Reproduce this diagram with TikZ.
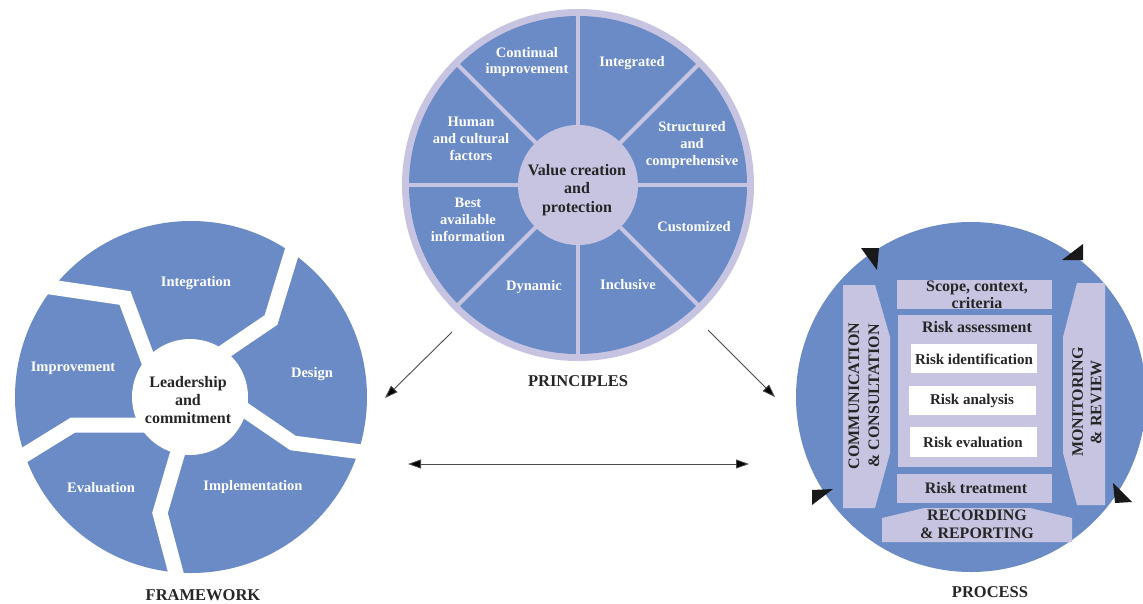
\documentclass[tikz,border=0pt]{standalone}
\usepackage{fontspec}
\setmainfont{Liberation Serif}
\usetikzlibrary{arrows.meta}
\definecolor{pblue}{HTML}{6A8BC6}
\definecolor{plav}{HTML}{C7C4E2}
\definecolor{tdark}{HTML}{262626}
\definecolor{aline}{HTML}{4A4A4A}
\begin{document}
\begin{tikzpicture}[x=1pt,y=-1pt,
  wlab/.style={text=white,font=\bfseries\fontsize{14.5}{16.7}\selectfont,align=center,inner sep=0},
  dlab/.style={text=tdark,font=\bfseries\fontsize{16}{18.3}\selectfont,align=center,inner sep=0},
  blab/.style={text=tdark,font=\bfseries\fontsize{15}{17}\selectfont,align=center,inner sep=0},
  title/.style={text=tdark,font=\bfseries\fontsize{16.5}{18}\selectfont,inner sep=0},
  gap/.style={white,line width=15,line join=miter},
  spoke/.style={plav,line width=4},
  lav/.style={fill=plav,draw=none},
  wbox/.style={fill=white,draw=none},
  conn/.style={aline,line width=0.9,-{Triangle[length=13,width=9,fill=black]}},
  conn2/.style={aline,line width=0.9,{Triangle[length=13,width=9,fill=black]}-{Triangle[length=13,width=9,fill=black]}},
  tip/.style={fill=black!90,draw=none}]
\useasboundingbox (0,0) rectangle (1143,603);
\fill[white] (0,0) rectangle (1143,603);

% ---------------- PRINCIPLES ----------------
\coordinate (pc) at (578,185);
\fill[plav] (pc) circle (176);
\fill[pblue] (pc) circle (169);
\foreach \a in {0,45,...,315}
  \draw[spoke] (pc) -- ++(\a:-172);
\fill[plav] (pc) circle (60);
\node[dlab] (pcenter) at (577,190) {Value creation\\and\\protection};
\node[wlab] (p1) at (527,62) {Continual\\improvement};
\node[wlab] (p2) at (632,63) {Integrated};
\node[wlab] (p3) at (692,145) {Structured\\and\\comprehensive};
\node[wlab] (p4) at (694,227) {Customized};
\node[wlab] (p5) at (628,285) {Inclusive};
\node[wlab] (p6) at (534,287) {Dynamic};
\node[wlab] (p7) at (468,220) {Best\\available\\information};
\node[wlab] (p8) at (471,139) {Human\\and cultural\\factors};
\node[title] (ptitle) at (578,381) {PRINCIPLES};

% ---------------- FRAMEWORK ----------------
\coordinate (fc) at (191,397);
\fill[pblue] (fc) circle (176);
\draw[gap] (30,284) -- (125,298) -- (150,365);
\draw[gap] (297,235) -- (271,320) -- (215,358);
\draw[gap] (236,404) -- (293,443) -- (385,455);
\draw[gap] (180,445) -- (160,513) -- (181,592);
\draw[gap] (145,425) -- (73,425) -- (5,467);
\fill[white] (190,397) circle (58);
\node[dlab] (fcenter) at (188,400) {Leadership\\and\\commitment};
\node[wlab] (f1) at (196,283) {Integration};
\node[wlab] (f2) at (312,374) {Design};
\node[wlab] (f3) at (253,487) {Implementation};
\node[wlab] (f4) at (101,488) {Evaluation};
\node[wlab] (f5) at (73,368) {Improvement};
\node[title] (ftitle) at (203,595) {FRAMEWORK};

% ---------------- PROCESS ----------------
\coordinate (prc) at (971,397);
\fill[pblue] (prc) circle (175);
\fill[lav] (843,285) -- (875,285) -- (890,337) -- (890,453) -- (875,508) -- (843,508) -- cycle;
\fill[lav] (1077,283) -- (1105,283) -- (1105,505) -- (1077,505) -- (1063,453) -- (1063,337) -- cycle;
\fill[lav] (897,280) rectangle (1052,309);
\fill[lav] (898,315) rectangle (1052,467);
\fill[wbox] (911,344) rectangle (1037,373);
\fill[wbox] (909,386) rectangle (1036,415);
\fill[wbox] (910,427) rectangle (1037,457);
\fill[lav] (897,474) rectangle (1052,503);
\fill[lav] (882,542) -- (1072,542) -- (1072,518) -- (1030,508) -- (924,508) -- (882,518) -- cycle;
\node[dlab,rotate=90,font=\bfseries\fontsize{16}{20}\selectfont] (comm) at (864,396) {COMMUNICATION\\\& CONSULTATION};
\node[dlab,rotate=90,font=\bfseries\fontsize{16}{18.5}\selectfont] (mon) at (1087,402) {MONITORING\\\& REVIEW};
\node[dlab,font=\bfseries\fontsize{16}{16.8}\selectfont] (scope) at (977,295) {Scope, context,\\criteria};
\node[dlab] (ra) at (977,327) {Risk assessment};
\node[blab] (rid) at (974,359) {Risk identification};
\node[blab] (ran) at (972,401) {Risk analysis};
\node[blab] (rev) at (973,442) {Risk evaluation};
\node[dlab] (rt) at (976,488) {Risk treatment};
\node[dlab,font=\bfseries\fontsize{16}{18}\selectfont] (rec) at (977,524) {RECORDING\\\& REPORTING};
\node[title] (prtitle) at (990,592) {PROCESS};
% circular arrow tips
\fill[tip] (861,248) -- (879,248) -- (877,270) -- cycle;
\fill[tip] (1083,244) -- (1083,260) -- (1062,260) -- cycle;
\fill[tip] (812,490) -- (833,489) -- (812,505) -- cycle;
\fill[tip] (1113,483) -- (1132,502) -- (1115,503) -- cycle;

% ---------------- connectors ----------------
\coordinate (la) at (452,332);
\coordinate (lb) at (385,398);
\coordinate (ra1) at (708,330);
\coordinate (rb) at (775,397);
\coordinate (da) at (408,464);
\coordinate (db) at (749,464);
\draw[conn] (la) -- (lb);
\draw[conn] (ra1) -- (rb);
\draw[conn2] (da) -- (db);
\end{tikzpicture}
\end{document}
